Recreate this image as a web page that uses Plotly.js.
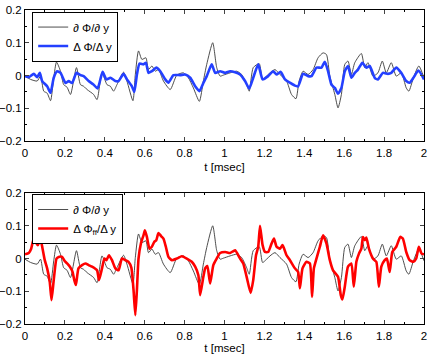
<!DOCTYPE html>
<html>
<head>
<meta charset="utf-8">
<script src="https://cdn.plot.ly/plotly-3.0.1.min.js"></script>
<style>
  html, body { margin: 0; padding: 0; background: white; }
  #chart { width: 431px; height: 354px; }
</style>
</head>
<body>
<div id="chart"></div>
<script>
// d Phi / dy (black, same in both panels)
var tExact = [0.0, 0.028, 0.061, 0.078, 0.094, 0.111, 0.128, 0.144, 0.158, 0.178, 0.194, 0.211, 0.228, 0.258, 0.278, 0.294,
    0.311, 0.344, 0.361, 0.386, 0.411, 0.428, 0.444, 0.461, 0.494, 0.511, 0.541, 0.553, 0.569, 0.586, 0.606, 0.619,
    0.636, 0.653, 0.669, 0.694, 0.728, 0.761, 0.794, 0.819, 0.844, 0.874, 0.894, 0.911, 0.941, 0.961, 0.978, 0.994,
    1.028, 1.061, 1.086, 1.111, 1.124, 1.144, 1.174, 1.191, 1.211, 1.228, 1.253, 1.278, 1.311, 1.336, 1.358, 1.374,
    1.394, 1.419, 1.444, 1.469, 1.494, 1.511, 1.528, 1.553, 1.569, 1.586, 1.603, 1.619, 1.636, 1.653, 1.686, 1.703,
    1.719, 1.744, 1.769, 1.791, 1.811, 1.836, 1.861, 1.886, 1.911, 1.924, 1.947, 1.974, 2.0];
var exactVals = [-0.002, -0.012, -0.017, -0.002, -0.048, -0.054, -0.077, -0.007, 0.041, 0.013, -0.028, -0.036, -0.058, 0.024, -0.028, -0.033,
    -0.043, -0.058, -0.074, 0.008, -0.028, -0.033, -0.048, -0.028, 0.01, -0.017, -0.077, 0.003, 0.075, 0.049, 0.054, 0.018,
    0.029, 0.013, 0.018, -0.017, -0.043, 0.001, 0.008, -0.007, -0.038, -0.079, -0.017, 0.034, 0.1, 0.024, -0.002, 0.001,
    0.008, 0.013, 0.003, -0.028, -0.048, 0.024, 0.036, -0.012, -0.002, 0.008, 0.018, 0.003, -0.017, -0.058, -0.071, -0.017,
    0.013, 0.003, 0.018, 0.054, 0.069, 0.064, -0.002, -0.058, -0.099, -0.058, 0.034, 0.044, 0.003, 0.039, 0.067, 0.024,
    0.039, -0.002, 0.008, 0.044, 0.008, 0.039, -0.002, 0.008, -0.038, -0.048, -0.007, 0.029, -0.007];

// Delta Phi / Delta y (blue, top panel)
var tDelta = [0.0, 0.02, 0.044, 0.061, 0.074, 0.086, 0.111, 0.128, 0.144, 0.161, 0.178, 0.203, 0.219, 0.236, 0.258, 0.278,
    0.294, 0.319, 0.344, 0.364, 0.389, 0.408, 0.428, 0.453, 0.469, 0.494, 0.511, 0.536, 0.548, 0.561, 0.574, 0.594,
    0.606, 0.619, 0.636, 0.658, 0.678, 0.703, 0.719, 0.744, 0.778, 0.803, 0.828, 0.853, 0.874, 0.894, 0.911, 0.936,
    0.953, 0.978, 1.003, 1.028, 1.053, 1.078, 1.103, 1.124, 1.144, 1.169, 1.191, 1.219, 1.244, 1.261, 1.281, 1.303,
    1.328, 1.353, 1.369, 1.394, 1.419, 1.436, 1.461, 1.486, 1.503, 1.519, 1.536, 1.553, 1.569, 1.586, 1.603, 1.619,
    1.636, 1.653, 1.669, 1.691, 1.711, 1.728, 1.753, 1.769, 1.794, 1.819, 1.836, 1.861, 1.886, 1.911, 1.928, 1.947,
    1.972, 2.0];
var deltaVals = [-0.002, -0.005, 0.005, -0.005, 0.008, -0.017, -0.033, -0.053, -0.007, 0.013, 0.008, -0.023, -0.017, -0.023, 0.008, 0.001,
    -0.002, -0.017, -0.028, -0.04, 0.011, -0.012, -0.007, -0.017, -0.017, 0.005, -0.012, -0.033, -0.05, 0.003, 0.036, 0.034,
    0.039, 0.008, 0.013, 0.024, 0.013, -0.012, -0.022, 0.001, 0.001, 0.003, -0.007, -0.033, -0.048, -0.023, -0.002, 0.034,
    0.008, 0.013, 0.008, 0.013, 0.01, 0.003, -0.017, -0.04, -0.007, 0.034, -0.012, -0.002, 0.013, 0.003, 0.011, -0.012,
    -0.022, -0.031, -0.033, 0.005, -0.002, -0.002, 0.024, 0.024, 0.042, 0.013, -0.028, -0.038, -0.056, -0.038, 0.013, 0.029,
    -0.007, 0.008, 0.018, 0.039, 0.024, 0.029, -0.007, -0.012, 0.008, 0.005, 0.008, 0.024, 0.008, -0.017, -0.022, -0.007,
    0.015, -0.012];

// Delta Phi_ff / Delta y (red, bottom panel)
var tFilt = [0.0, 0.019, 0.031, 0.044, 0.058, 0.064, 0.078, 0.088, 0.099, 0.111, 0.124, 0.133, 0.144, 0.158, 0.169, 0.186,
    0.198, 0.211, 0.225, 0.238, 0.247, 0.255, 0.268, 0.286, 0.303, 0.319, 0.336, 0.361, 0.371, 0.386, 0.398, 0.408,
    0.421, 0.436, 0.453, 0.469, 0.486, 0.503, 0.519, 0.533, 0.544, 0.553, 0.561, 0.569, 0.581, 0.594, 0.601, 0.611,
    0.624, 0.636, 0.648, 0.658, 0.669, 0.683, 0.694, 0.706, 0.719, 0.736, 0.761, 0.786, 0.811, 0.836, 0.853, 0.869,
    0.878, 0.894, 0.903, 0.914, 0.928, 0.944, 0.961, 0.978, 1.003, 1.028, 1.053, 1.078, 1.094, 1.111, 1.131, 1.144,
    1.158, 1.169, 1.178, 1.191, 1.203, 1.219, 1.236, 1.248, 1.261, 1.278, 1.291, 1.311, 1.328, 1.353, 1.369, 1.378,
    1.391, 1.411, 1.428, 1.439, 1.448, 1.461, 1.478, 1.494, 1.511, 1.528, 1.544, 1.569, 1.583, 1.591, 1.603, 1.619,
    1.636, 1.648, 1.661, 1.674, 1.686, 1.694, 1.703, 1.711, 1.724, 1.744, 1.761, 1.774, 1.786, 1.803, 1.814, 1.828,
    1.841, 1.861, 1.881, 1.894, 1.911, 1.928, 1.947, 1.961, 1.974, 1.988, 2.0];
var filtVals = [0.013, 0.017, 0.03, 0.061, 0.046, 0.041, 0.058, 0.03, -0.005, -0.03, -0.071, -0.127, -0.066, 0.0, 0.005, 0.005,
    -0.007, -0.015, -0.025, -0.04, -0.066, -0.081, -0.03, -0.02, -0.015, -0.02, -0.025, -0.036, -0.066, -0.03, 0.0, -0.005,
    0.01, -0.005, -0.03, -0.036, 0.0, -0.005, -0.01, -0.028, -0.096, -0.173, -0.096, 0.0, 0.046, 0.071, 0.086, 0.066,
    0.03, 0.036, 0.051, 0.056, 0.078, 0.068, 0.061, 0.036, 0.005, -0.005, 0.0, 0.007, 0.0, -0.01, -0.025, -0.051,
    -0.112, -0.056, -0.03, -0.023, -0.076, -0.02, 0.0, 0.017, 0.02, 0.017, 0.025, 0.0, -0.015, -0.056, -0.105, -0.066,
    0.01, 0.036, 0.1, 0.041, 0.02, 0.02, 0.046, 0.061, 0.036, 0.03, 0.041, 0.01, -0.005, -0.03, -0.041, -0.091,
    -0.03, -0.01, -0.015, -0.117, -0.03, 0.0, 0.036, 0.071, 0.046, -0.005, -0.036, -0.056, -0.112, -0.125, -0.086, -0.025,
    -0.015, -0.086, -0.01, 0.015, 0.03, 0.066, 0.056, 0.064, 0.03, 0.0, -0.01, -0.086, -0.025, -0.005, 0.0, -0.041,
    0.02, 0.036, 0.066, 0.061, 0.02, -0.005, -0.01, 0.0, 0.036, 0.015, 0.013];

var xTickVals = [0, 0.2, 0.4, 0.6, 0.8, 1, 1.2, 1.4, 1.6, 1.8, 2];
var yTickVals = [-0.2, -0.1, 0, 0.1, 0.2];

var font = { family: 'Liberation Sans, Arial, sans-serif', size: 11.5, color: 'black' };
var titleFont = { family: 'Liberation Sans, Arial, sans-serif', size: 11.5, color: 'black' };

var traces = [
    {
        x: tExact, y: exactVals, xaxis: 'x', yaxis: 'y', type: 'scatter', mode: 'lines',
        name: '\u2202 \u03a6/\u2202 y', legend: 'legend',
        line: { color: '#3a3a3a', width: 0.9, shape: 'spline', smoothing: 0.6 }
    },
    {
        x: tDelta, y: deltaVals, xaxis: 'x', yaxis: 'y', type: 'scatter', mode: 'lines',
        name: '\u0394 \u03a6/\u0394 y', legend: 'legend',
        line: { color: '#2440ff', width: 2.6, shape: 'spline', smoothing: 0.5 }
    },
    {
        x: tExact, y: exactVals, xaxis: 'x2', yaxis: 'y2', type: 'scatter', mode: 'lines',
        name: '\u2202 \u03a6/\u2202 y', legend: 'legend2',
        line: { color: '#3a3a3a', width: 0.9, shape: 'spline', smoothing: 0.6 }
    },
    {
        x: tFilt, y: filtVals, xaxis: 'x2', yaxis: 'y2', type: 'scatter', mode: 'lines',
        name: '\u0394 \u03a6<sub>ff</sub>/\u0394 y', legend: 'legend2',
        line: { color: '#ff0000', width: 2.6, shape: 'spline', smoothing: 0.5 }
    }
];

function xAxis(anchor) {
    return {
        anchor: anchor, range: [0, 2], tickvals: xTickVals, ticks: 'inside', ticklen: 4,
        showline: true, linecolor: 'black', linewidth: 1, mirror: 'ticks', showgrid: false, zeroline: false,
        minor: { dtick: 0.1, ticks: 'inside', ticklen: 2, tickcolor: 'black' },
        ticklabelstandoff: 1,
        title: { text: 't [msec]', font: titleFont, standoff: 5 }, tickfont: font
    };
}
function yAxis(anchor, domain) {
    return {
        anchor: anchor, domain: domain, range: [-0.2, 0.2], tickvals: yTickVals, ticks: 'inside', ticklen: 4,
        showline: true, linecolor: 'black', linewidth: 1, mirror: 'ticks', showgrid: false, zeroline: false,
        minor: { dtick: 0.05, ticks: 'inside', ticklen: 2, tickcolor: 'black' },
        tickfont: font
    };
}

var legendBase = {
    bgcolor: 'white', bordercolor: 'black', borderwidth: 1, font: font,
    xanchor: 'left', yanchor: 'top', itemwidth: 30, tracegroupgap: 0
};

var layout = {
    width: 431, height: 354,
    margin: { l: 25, r: 7, t: 10, b: 30 },
    paper_bgcolor: 'white', plot_bgcolor: 'white',
    font: font,
    showlegend: true,
    xaxis: xAxis('y'),
    yaxis: yAxis('x', [0.583, 1]),
    xaxis2: xAxis('y2'),
    yaxis2: yAxis('x2', [0, 0.417]),
    legend: Object.assign({ x: 0.018, y: 0.995 }, legendBase),
    legend2: Object.assign({ x: 0.018, y: 0.414 }, legendBase)
};

Plotly.newPlot('chart', traces, layout, { displayModeBar: false, staticPlot: true });
</script>
</body>
</html>
